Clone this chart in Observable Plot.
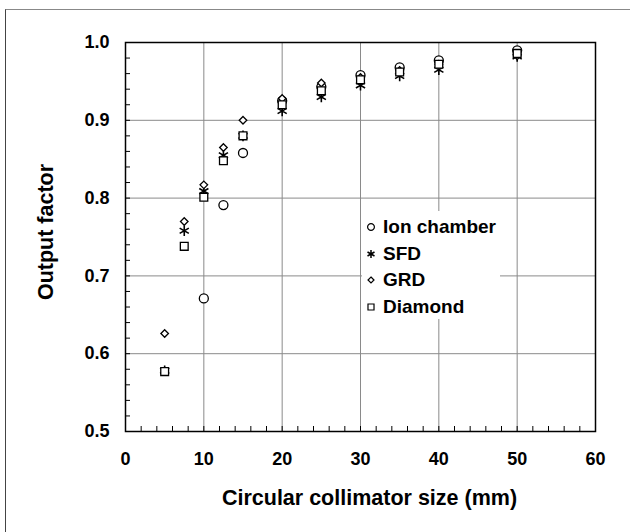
<!DOCTYPE html>
<html>
<head>
<meta charset="utf-8">
<script src="https://cdn.jsdelivr.net/npm/d3@7"></script>
<script src="https://cdn.jsdelivr.net/npm/@observablehq/plot@0.6"></script>
<style>
  html, body { margin: 0; padding: 0; background: #fff; }
  #wrap { position: relative; width: 630px; height: 532px; overflow: hidden; background: #fff; }
  #border { position: absolute; left: 5px; top: 9px; width: 700px; height: 600px;
            border-left: 1.5px solid #444; border-top: 1.5px solid #888; }
  #wrap svg.plot { position: absolute; left: 0; top: 0; }
  #legend { position: absolute; left: 362px; top: 211px; width: 138px; height: 108px; background: #fff;
            font-family: "Liberation Sans", Arial, sans-serif; font-weight: bold; font-size: 19px; color: #000; }
  #legend .row { position: absolute; left: 0; height: 26px; display: flex; align-items: center; }
  #legend svg { margin-left: 5px; margin-right: 8px; overflow: visible; }
</style>
</head>
<body>
<div id="wrap"><div id="border"></div></div>
<script>
// ---- data ----
const sizes = [5, 7.5, 10, 12.5, 15, 20, 25, 30, 35, 40, 50];
const ionSizes = [10, 12.5, 15, 20, 25, 30, 35, 40, 50];
const ionChamber = [0.671, 0.791, 0.858, 0.925, 0.943, 0.958, 0.968, 0.977, 0.990];
const sfd = [0.578, 0.758, 0.809, 0.855, 0.880, 0.912, 0.930, 0.945, 0.957, 0.965, 0.982];
const grd = [0.626, 0.770, 0.817, 0.865, 0.900, 0.928, 0.948, 0.955, 0.964, 0.972, 0.983];
const diamond = [0.577, 0.738, 0.801, 0.848, 0.880, 0.920, 0.938, 0.952, 0.962, 0.972, 0.986];

const seriesNames = ["Ion chamber", "SFD", "GRD", "Diamond"];
const seriesSymbols = ["circle", "asterisk", "diamond2", "square"];
const seriesRadius = [4.5, 5, 3.4, 4.4];
const legendRadius = [3.4, 3.8, 2.7, 3.4];

const xTicks = [0, 10, 20, 30, 40, 50, 60];
const yTicks = [0.5, 0.6, 0.7, 0.8, 0.9, 1.0];
const xMinor = d3.range(0, 61, 2);
const yMinor = d3.range(50, 101, 2).map(v => v / 100);

const xLabel = "Circular collimator size (mm)";
const yLabel = "Output factor";

// ---- build series tables ----
const series = [
  ionSizes.map((s, i) => ({size: s, of: ionChamber[i]})),
  sizes.map((s, i) => ({size: s, of: sfd[i]})),
  sizes.map((s, i) => ({size: s, of: grd[i]})),
  sizes.map((s, i) => ({size: s, of: diamond[i]}))
];

const font = '"Liberation Sans", Arial, sans-serif';

const plot = Plot.plot({
  width: 630,
  height: 532,
  marginLeft: 125,
  marginRight: 35,
  marginTop: 42,
  marginBottom: 101,
  style: {fontFamily: font, fontWeight: "bold", fontSize: "18px", color: "#000", background: "transparent"},
  x: {domain: [0, 60], label: null},
  y: {domain: [0.5, 1.0], label: null},
  marks: [
    Plot.ruleX(xTicks.slice(1, -1), {stroke: "#8a8a8a", strokeWidth: 1}),
    Plot.ruleY(yTicks.slice(1, -1), {stroke: "#8a8a8a", strokeWidth: 1}),
    Plot.axisX(xMinor, {tickSize: -5, tickFormat: () => "", label: null, stroke: "#000"}),
    Plot.axisY(yMinor, {tickSize: -5, tickFormat: () => "", label: null, stroke: "#000"}),
    Plot.axisX(xTicks, {tickSize: 0, tickPadding: 21, tickFormat: d => String(d), label: null, fontSize: 18}),
    Plot.axisY(yTicks, {tickSize: 0, tickPadding: 16, tickFormat: d3.format(".1f"), label: null, fontSize: 18}),
    Plot.frame({stroke: "#000", strokeWidth: 1.5}),
    ...series.map((data, k) => Plot.dot(data, {
      x: "size", y: "of", symbol: () => seriesSymbols[k],
      r: seriesRadius[k], stroke: "#000", strokeWidth: k === 1 ? 1.6 : 1.3, fill: k === 1 ? "none" : "#fff"
    })),
    Plot.text([xLabel], {text: d => d, frameAnchor: "bottom", textAnchor: "middle", lineAnchor: "middle",
      dx: 9, dy: 67, fontSize: 21.5, fontWeight: "bold", fill: "#000"}),
    Plot.text([yLabel], {text: d => d, frameAnchor: "left", textAnchor: "middle", lineAnchor: "middle",
      rotate: -90, dx: -79, dy: -5, fontSize: 21.5, fontWeight: "bold", fill: "#000"})
  ]
});
plot.classList.add("plot");
const wrap = document.getElementById("wrap");
wrap.appendChild(plot);

// ---- legend ----
const legend = document.createElement("div");
legend.id = "legend";
const symbolMap = {circle: d3.symbolCircle, asterisk: d3.symbolAsterisk, diamond2: d3.symbolDiamond2, square: d3.symbolSquare};
seriesNames.forEach((name, i) => {
  const row = document.createElement("div");
  row.className = "row";
  row.style.top = (3 + i * 26.7) + "px";
  const svg = d3.create("svg").attr("width", 8).attr("height", 12);
  svg.append("path")
    .attr("transform", "translate(4,6)")
    .attr("d", d3.symbol(symbolMap[seriesSymbols[i]], Math.PI * legendRadius[i] * legendRadius[i])())
    .attr("fill", i === 1 ? "none" : "#fff").attr("stroke", "#000").attr("stroke-width", i === 1 ? 1.5 : 1.2);
  row.appendChild(svg.node());
  const span = document.createElement("span");
  span.textContent = name;
  row.appendChild(span);
  legend.appendChild(row);
});
wrap.appendChild(legend);
</script>
</body>
</html>
